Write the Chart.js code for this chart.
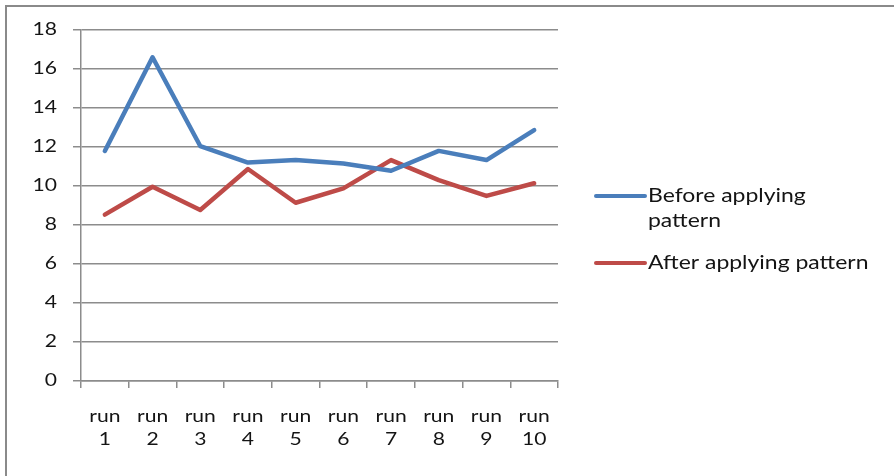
<!DOCTYPE html>
<html>
<head>
<meta charset="utf-8">
<script src="https://cdn.jsdelivr.net/npm/chart.js@4/dist/chart.umd.min.js"></script>
<style>
  html, body { margin: 0; padding: 0; background: #ffffff; }
  #wrap { width: 894px; height: 476px; position: relative; }
</style>
</head>
<body>
<div id="wrap"><canvas id="c" width="894" height="476"></canvas></div>
<script>
// Run labels (two lines each) and measured values
const runs = [["run","1"],["run","2"],["run","3"],["run","4"],["run","5"],["run","6"],["run","7"],["run","8"],["run","9"],["run","10"]];
const beforeValues = [11.8, 16.6, 12.05, 11.2, 11.33, 11.15, 10.78, 11.8, 11.33, 12.87];
const afterValues  = [8.53, 9.96, 8.77, 10.87, 9.14, 9.88, 11.33, 10.3, 9.49, 10.14];
const seriesNames = ["Before applying pattern", "After applying pattern"];
const legendLines = [["Before applying", "pattern"], ["After applying pattern"]];

const BLUE = "#4a7ebb";
const RED = "#be4b48";
const GRID = "#8c8c8c";
const FONT = "Lato, 'Liberation Sans', sans-serif";
// Horizontal expansion applied to all text glyphs
const TEXT_STRETCH = 1.24;

// Wide-set text, frame lines on top and left, and the legend at the right
const framePlugin = {
  id: "frameAndLegend",
  beforeDraw(chart) {
    const ctx = chart.ctx;
    const proto = CanvasRenderingContext2D.prototype.fillText;
    ctx.fillText = function (t, x, y, w) {
      this.save();
      this.translate(x, y);
      this.scale(TEXT_STRETCH, 1);
      if (w === undefined) proto.call(this, t, 0, 0);
      else proto.call(this, t, 0, 0, w / TEXT_STRETCH);
      this.restore();
    };
  },
  afterDraw(chart) {
    const ctx = chart.ctx;
    ctx.save();
    ctx.strokeStyle = "#8a8a8a";
    ctx.lineWidth = 2;
    ctx.beginPath();
    ctx.moveTo(6, 476);
    ctx.lineTo(6, 6);
    ctx.lineTo(894, 6);
    ctx.stroke();

    const items = [
      { y: 196, color: chart.data.datasets[0].borderColor, lines: legendLines[0] },
      { y: 263, color: chart.data.datasets[1].borderColor, lines: legendLines[1] }
    ];
    ctx.font = "18.5px " + FONT;
    ctx.textBaseline = "middle";
    ctx.textAlign = "left";
    ctx.fillStyle = "#141414";
    items.forEach(it => {
      ctx.strokeStyle = it.color;
      ctx.lineWidth = 4;
      ctx.lineCap = "round";
      ctx.beginPath();
      ctx.moveTo(596, it.y);
      ctx.lineTo(645, it.y);
      ctx.stroke();
      it.lines.forEach((t, i) => ctx.fillText(t, 648, it.y + i * 25));
    });
    ctx.restore();
    delete ctx.fillText;
  }
};

new Chart(document.getElementById("c"), {
  type: "line",
  data: {
    labels: runs,
    datasets: [
      { label: seriesNames[0], data: beforeValues, borderColor: BLUE, backgroundColor: BLUE,
        borderWidth: 4.5, pointRadius: 0, tension: 0, borderCapStyle: "round", borderJoinStyle: "round" },
      { label: seriesNames[1], data: afterValues, borderColor: RED, backgroundColor: RED,
        borderWidth: 4.5, pointRadius: 0, tension: 0, borderCapStyle: "round", borderJoinStyle: "round" }
    ]
  },
  options: {
    responsive: false,
    animation: false,
    layout: { padding: { left: 0, top: 30, right: 336, bottom: 0 } },
    plugins: { legend: { display: false }, tooltip: { enabled: false } },
    scales: {
      x: {
        offset: true,
        grid: { offset: true, drawOnChartArea: false, drawTicks: true, tickLength: 7, color: GRID, lineWidth: 1.5 },
        border: { display: true, color: GRID, width: 1.5 },
        ticks: { color: "#141414", font: { family: FONT, size: 17, lineHeight: 1.37 }, padding: 17, maxRotation: 0, autoSkip: false },
        afterFit(scale) { scale.height = 95; }
      },
      y: {
        min: 0, max: 18,
        grid: { color: GRID, lineWidth: 1.5, tickLength: 8 },
        border: { display: true, color: GRID, width: 1.5 },
        ticks: { stepSize: 2, color: "#141414", font: { family: FONT, size: 17 }, padding: 16 },
        afterFit(scale) { scale.width = 81; }
      }
    }
  },
  plugins: [framePlugin]
});
</script>
</body>
</html>
